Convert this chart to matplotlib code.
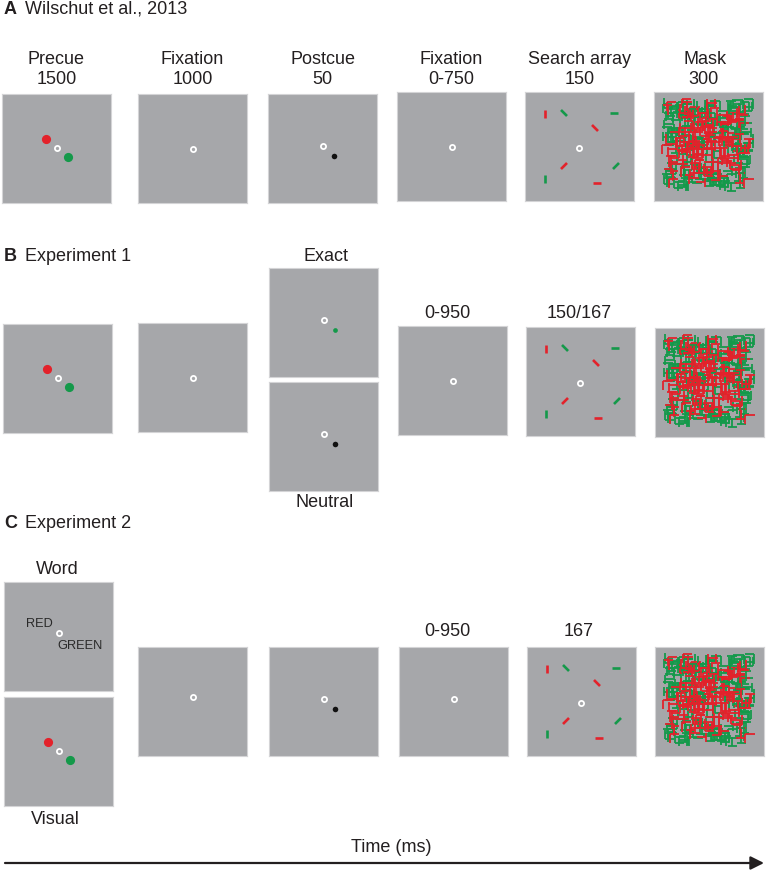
import numpy as np
import matplotlib
matplotlib.use("Agg")
import matplotlib.pyplot as plt

# ---------------- content ----------------
row_letters = ["A", "B", "C"]
row_titles = ["Wilschut et al., 2013", "Experiment 1", "Experiment 2"]
stage_names_A = ["Precue", "Fixation", "Postcue", "Fixation", "Search array", "Mask"]
durations_A = ["1500", "1000", "50", "0-750", "150", "300"]
durations_B = ["0-950", "150/167"]
durations_C = ["0-950", "167"]
postcue_labels_B = ["Exact", "Neutral"]
precue_labels_C = ["Word", "Visual"]
word_cues = ["RED", "GREEN"]
axis_label = "Time (ms)"

# search-array items (panel units, y downward): x, y, orientation (deg), colour
search_x = [20, 39, 89, 70, 39, 91, 20, 72]
search_y = [22, 21, 21, 36, 74, 74, 87, 91]
search_ori = [90, 45, 0, 45, -45, -45, 90, 0]
search_col = ["red", "green", "green", "red", "red", "green", "green", "red"]

# ---------------- layout / style ----------------
W, H = 767, 873
S = 109  # panel size in px
GRAY = "#a6a7aa"
RED = "#e3222b"
GREEN = "#14994a"
TXT = "#231f20"
FONT = ["Liberation Sans", "DejaVu Sans"]
FS = 13

fig = plt.figure(figsize=(W / 100, H / 100), dpi=100)
plt.rcParams["font.family"] = FONT

# overlay axes in pixel coordinates for the time arrow
bg = fig.add_axes([0, 0, 1, 1])
bg.set_xlim(0, W)
bg.set_ylim(H, 0)
bg.axis("off")


def text(x, y, s, **kw):
    kw.setdefault("fontsize", FS)
    kw.setdefault("color", TXT)
    kw.setdefault("ha", "center")
    kw.setdefault("va", "center")
    fig.text(x / W, 1 - y / H, s, family=FONT, **kw)


def panel(x0, y0):
    ax = fig.add_axes([x0 / W, 1 - (y0 + S) / H, S / W, S / H])
    ax.set_xlim(0, S)
    ax.set_ylim(S, 0)
    ax.set_facecolor(GRAY)
    ax.set_xticks([])
    ax.set_yticks([])
    for sp in ax.spines.values():
        sp.set_edgecolor("#d4d4d6")
        sp.set_linewidth(0.8)
    return ax


def ring(ax, x=55, y=54):
    ax.plot([x], [y], "o", ms=3.7, mfc="none", mec="white", mew=1.3)


def dot(ax, x, y, c, ms):
    ax.plot([x], [y], "o", ms=ms, mfc=c, mec="none")


def precue(ax):
    dot(ax, 44, 45, RED, 6.6)
    ring(ax, 55, 54)
    dot(ax, 66, 63, GREEN, 6.6)


def postcue(ax, c, ms=4.0):
    ring(ax, 55, 52)
    dot(ax, 66, 62, c, ms)


def search(ax):
    L = 8.5
    for x, y, o, c in zip(search_x, search_y, search_ori, search_col):
        dx = np.cos(np.radians(o)) * L / 2
        dy = np.sin(np.radians(o)) * L / 2
        ax.plot([x - dx, x + dx], [y - dy, y + dy], color=RED if c == "red" else GREEN,
                lw=1.9, solid_capstyle="butt")
    ring(ax, 54, 56)


# mask texture: overlapping T / L letters (noise stimulus)
_rng = np.random.default_rng(5)
_n = 360
_mx = _rng.uniform(13, 95, _n)
_my = _rng.uniform(11, 95, _n)
_mk = _rng.integers(0, 4, _n)
_mt = _rng.integers(0, 2, _n)
_r2 = ((_mx - 56) ** 2 + (_my - 53) ** 2) / 28 ** 2
_mred = _rng.random(_n) < (0.3 + 0.45 * np.exp(-_r2))
_order = np.argsort(_mred + _rng.random(_n) * 1.6)


def mask(ax):
    a = 4.6
    for i in _order:
        x, y, k, t, r = _mx[i], _my[i], _mk[i], _mt[i], _mred[i]
        c = RED if r else GREEN
        if t == 0:  # T
            segs = [((-a, -a), (a, -a)), ((0, -a), (0, a))]
        else:  # L
            segs = [((-a, -a), (-a, a)), ((-a, a), (a, a))]
        th = np.radians(90 * k)
        ct, st = np.cos(th), np.sin(th)
        for (p, q) in segs:
            xs = [x + p[0] * ct - p[1] * st, x + q[0] * ct - q[1] * st]
            ys = [y + p[0] * st + p[1] * ct, y + q[0] * st + q[1] * ct]
            ax.plot(xs, ys, color=c, lw=1.4, solid_capstyle="butt", alpha=0.92)


# ---------------- Row A ----------------
text(4, 9, row_letters[0], ha="left", weight="bold")
text(25, 9, row_titles[0], ha="left")
rowA = [(2, 94), (138, 94), (268, 94), (397, 92), (525, 92), (654, 92)]
for i, (x0, y0) in enumerate(rowA):
    ax = panel(x0, y0)
    cx = x0 + S / 2
    text(cx + (-3 if i == 5 else 0), 60, stage_names_A[i])
    text(cx + (-5 if i == 5 else 0), 79, durations_A[i])
    if i == 0:
        precue(ax)
    elif i in (1, 3):
        ring(ax, 55, 55)
    elif i == 2:
        postcue(ax, "#111111")
    elif i == 4:
        search(ax)
    else:
        mask(ax)

# ---------------- Row B ----------------
text(4, 256, row_letters[1], ha="left", weight="bold")
text(25, 256, row_titles[1], ha="left")
precue(panel(3, 324))
ring(panel(138, 323), 55, 55)
postcue(panel(269, 268), GREEN, 3.4)
postcue(panel(269, 382), "#111111")
text(326, 256, postcue_labels_B[0])
text(325, 503, postcue_labels_B[1])
ring(panel(398, 326), 55, 55)
text(447, 313, durations_B[0])
search(panel(526, 327))
text(579, 313, durations_B[1])
mask(panel(655, 328))

# ---------------- Row C ----------------
text(4, 523, row_letters[2], ha="left", weight="bold")
text(25, 523, row_titles[2], ha="left")
axw = panel(4, 582)
axw.text(35, 42, word_cues[0], ha="center", va="center", fontsize=9.2, color="#2a2a2a", family=FONT)
axw.text(76, 64, word_cues[1], ha="center", va="center", fontsize=9.2, color="#2a2a2a", family=FONT)
ring(axw, 55, 51)
precue(panel(4, 697))
text(57, 569, precue_labels_C[0])
text(55, 819, precue_labels_C[1])
ring(panel(138, 647), 55, 50)
postcue(panel(269, 647), "#111111")
ring(panel(399, 647), 55, 52)
text(447, 632, durations_C[0])
search(panel(527, 647))
text(579, 632, durations_C[1])
mask(panel(655, 647))

# ---------------- time arrow ----------------
text(391, 847, axis_label)
bg.annotate("", xy=(764, 863), xytext=(5, 863),
            arrowprops=dict(arrowstyle="-|>", color=TXT, lw=1.6,
                            mutation_scale=20, shrinkA=0, shrinkB=0))

fig.savefig("out.png", dpi=100)
